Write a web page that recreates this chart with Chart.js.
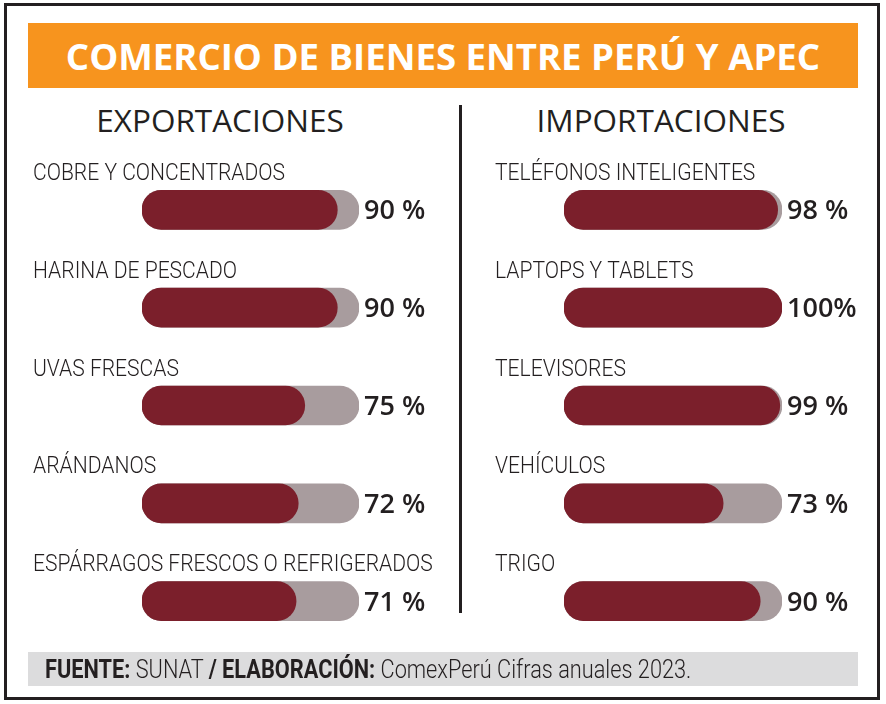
<!DOCTYPE html>
<html>
<head>
<meta charset="utf-8">
<script src="https://cdn.jsdelivr.net/npm/chart.js@4.4.0/dist/chart.umd.min.js"></script>
<style>
  html, body { margin: 0; padding: 0; background: #fff; }
  #wrap { position: relative; width: 886px; height: 704px; overflow: hidden; font-family: "Open Sans", sans-serif; color: #231f20; }
  #frame { position: absolute; left: 4px; top: 3px; width: 870px; height: 691px; border: 3px solid #231f20; }
  #title { position: absolute; left: 28px; top: 23px; width: 830px; height: 65px; background: #f7941e; color: #fff;
           font-weight: 700; font-size: 36.6px; line-height: 66px; text-align: center; white-space: nowrap; }
  .head { position: absolute; top: 104px; width: 400px; font-size: 31.5px; line-height: 31.5px; font-weight: 500; text-align: center; }
  #divider { position: absolute; left: 459px; top: 105px; width: 3px; height: 508px; background: #231f20; }
  #foot { position: absolute; left: 28px; top: 652px; width: 830px; height: 34px; background: #dcdcdd; }
  #foot p { margin: 0; position: absolute; left: 17px; top: 1px; font-family: Roboto, sans-serif; font-weight: 300; font-size: 25px;
            line-height: 34px; white-space: nowrap; transform: scaleX(0.87); transform-origin: left center; }
  #foot b { font-weight: 700; }
  canvas { position: absolute; top: 0; }
</style>
</head>
<body>
<div id="wrap">
  <div id="frame"></div>
  <div id="title">COMERCIO DE BIENES ENTRE PERÚ Y APEC</div>
  <div class="head" style="left:20px">EXPORTACIONES</div>
  <div class="head" style="left:461px">IMPORTACIONES</div>
  <canvas id="left" width="443" height="704" style="left:0"></canvas>
  <canvas id="right" width="443" height="704" style="left:443px"></canvas>
  <div id="divider"></div>
  <div id="foot"><p><b>FUENTE:</b> SUNAT <b>/ ELABORACIÓN:</b> ComexPerú Cifras anuales 2023.</p></div>
</div>
<script>
// share of each product traded with APEC (%)
const exportLabels = ['COBRE Y CONCENTRADOS', 'HARINA DE PESCADO', 'UVAS FRESCAS', 'ARÁNDANOS', 'ESPÁRRAGOS FRESCOS O REFRIGERADOS'];
const exportValues = [90, 90, 75, 72, 71];
const importLabels = ['TELÉFONOS INTELIGENTES', 'LAPTOPS Y TABLETS', 'TELEVISORES', 'VEHÍCULOS', 'TRIGO'];
const importValues = [98, 100, 99, 73, 90];
const fullShare = 100;

const RED = '#7b1f2b';
const GREY = '#a89c9e';
const INK = '#231f20';

function fmt(v) {
  return v === 100 ? '100%' : v + ' %';
}

// category name above each bar, percentage right of the track
const rowLabels = {
  id: 'rowLabels',
  afterDatasetsDraw(chart, args, opts) {
    const ctx = chart.ctx;
    const xs = chart.scales.x, ys = chart.scales.y;
    const vals = chart.data.datasets[0].data;
    chart.data.labels.forEach((lab, i) => {
      const cy = ys.getPixelForValue(i);
      ctx.save();
      ctx.fillStyle = INK;
      ctx.textBaseline = 'alphabetic';
      ctx.font = '300 24.5px Roboto';
      ctx.translate(opts.labelX, cy - 30);
      ctx.scale(0.86, 1);
      ctx.fillText(lab, 0, 0);
      ctx.restore();

      ctx.save();
      ctx.fillStyle = INK;
      ctx.font = '600 27px "Open Sans"';
      ctx.fillText(fmt(vals[i]), xs.getPixelForValue(fullShare) + 5, cy + 9.5);
      ctx.restore();
    });
  }
};

function makePanel(id, labels, values, pad, labelX) {
  const bar = { barThickness: 39, borderRadius: 20, borderSkipped: false, grouped: false };
  return new Chart(document.getElementById(id), {
    type: 'bar',
    data: {
      labels: labels,
      datasets: [
        Object.assign({ data: values, backgroundColor: RED, order: 0 }, bar),
        Object.assign({ data: labels.map(() => fullShare), backgroundColor: GREY, order: 1 }, bar)
      ]
    },
    options: {
      indexAxis: 'y',
      responsive: false,
      animation: false,
      devicePixelRatio: 1,
      layout: { padding: pad },
      scales: {
        x: { display: false, min: 0, max: fullShare },
        y: { display: false }
      },
      plugins: {
        legend: { display: false },
        tooltip: { enabled: false },
        rowLabels: { labelX: labelX }
      }
    },
    plugins: [rowLabels]
  });
}

makePanel('left', exportLabels, exportValues, { left: 142, right: 84, top: 161, bottom: 54 }, 33);
makePanel('right', importLabels, importValues, { left: 121, right: 104, top: 161, bottom: 54 }, 52);
</script>
</body>
</html>
